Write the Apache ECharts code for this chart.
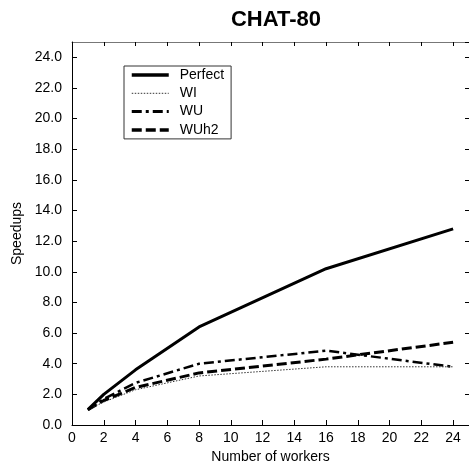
<!DOCTYPE html>
<html>
<head>
<meta charset="utf-8">
<script src="https://cdn.jsdelivr.net/npm/echarts@6/dist/echarts.min.js"></script>
<style>
  html, body { margin: 0; padding: 0; background: #fff; }
  #chart { width: 469px; height: 470px; }
</style>
</head>
<body>
<div id="chart"></div>
<script>
// Speedup measurements for CHAT-80 by number of workers
const workers = [1, 2, 4, 8, 16, 24];
const perfect = [1.0, 2.0, 3.6, 6.4, 10.2, 12.8];
const wi      = [1.0, 1.5, 2.3, 3.2, 3.8, 3.8];
const wu      = [1.0, 1.7, 2.75, 4.0, 4.85, 3.8];
const wuh2    = [1.0, 1.6, 2.45, 3.4, 4.3, 5.4];

const seriesNames = ['Perfect', 'WI', 'WU', 'WUh2'];
const seriesData = [perfect, wi, wu, wuh2];

const lineStyles = [
  { color: '#000', width: 3, type: 'solid' },
  { color: '#333', width: 1, type: [1.5, 1.5] },
  { color: '#000', width: 2.5, type: [10, 4, 3, 4] },
  { color: '#000', width: 3, type: [10, 4] }
];

const font = 'Liberation Sans, Arial, Helvetica, sans-serif';

const pairs = arr => workers.map((w, i) => [w, arr[i]]);

const chart = echarts.init(document.getElementById('chart'), null, { renderer: 'canvas' });

chart.setOption({
  animation: false,
  backgroundColor: '#fff',
  title: {
    text: 'CHAT-80',
    left: 271,
    textAlign: 'center',
    top: 4,
    textStyle: { fontFamily: font, fontSize: 22, fontWeight: 'bold', color: '#000' }
  },
  legend: {
    data: seriesNames.map((name, i) => ({
      name,
      lineStyle: {
        color: lineStyles[i].color,
        width: lineStyles[i].width + (i === 1 ? 0 : 0.5),
        type: lineStyles[i].type
      }
    })),
    orient: 'vertical',
    left: 124,
    top: 66,
    itemWidth: 37,
    itemHeight: 14,
    itemGap: 4.3,
    padding: [2, 7, 2, 6],
    borderColor: '#333',
    borderWidth: 1,
    backgroundColor: '#fff',
    itemStyle: { opacity: 0 },
    textStyle: { fontFamily: font, fontSize: 14, color: '#000', padding: [0, 0, 0, 6] }
  },
  grid: { left: 72, right: -1, top: 42, bottom: 45 },
  xAxis: [
    {
      type: 'value',
      min: 0, max: 25, interval: 2,
      name: 'Number of workers',
      nameLocation: 'middle',
      nameGap: 25,
      nameTextStyle: { fontFamily: font, fontSize: 14, color: '#000' },
      axisLine: { show: true, onZero: false, lineStyle: { color: '#000', width: 1 } },
      axisTick: { show: true, inside: true, length: 5, lineStyle: { color: '#000' } },
      axisLabel: { fontFamily: font, fontSize: 14, color: '#000', margin: 6, showMaxLabel: false },
      splitLine: { show: false }
    },
    {
      type: 'value',
      position: 'top',
      min: 0, max: 25, interval: 2,
      axisLine: { show: true, onZero: false, lineStyle: { color: '#777', width: 1 } },
      axisTick: { show: true, inside: true, length: 4, lineStyle: { color: '#000' } },
      axisLabel: { show: false },
      splitLine: { show: false }
    }
  ],
  yAxis: [
    {
      type: 'value',
      min: 0, max: 25, interval: 2,
      name: 'Speedups',
      nameLocation: 'middle',
      nameGap: 42,
      nameTextStyle: { fontFamily: font, fontSize: 14, color: '#000' },
      axisLine: { show: true, onZero: false, lineStyle: { color: '#000', width: 1 } },
      axisTick: { show: true, inside: true, length: 5, lineStyle: { color: '#000' } },
      axisLabel: {
        fontFamily: font, fontSize: 14, color: '#000', margin: 10, showMaxLabel: false,
        formatter: v => v.toFixed(1)
      },
      splitLine: { show: false }
    },
    {
      type: 'value',
      position: 'right',
      min: 0, max: 25, interval: 2,
      axisLine: { show: true, onZero: false, lineStyle: { color: '#777', width: 1 } },
      axisTick: { show: true, inside: true, length: 4, lineStyle: { color: '#000' } },
      axisLabel: { show: false },
      splitLine: { show: false }
    }
  ],
  series: seriesNames.map((name, i) => ({
    name,
    type: 'line',
    xAxisIndex: 0,
    yAxisIndex: 0,
    data: pairs(seriesData[i]),
    showSymbol: false,
    symbol: 'none',
    lineStyle: lineStyles[i],
    itemStyle: { color: lineStyles[i].color },
    z: 10 - i
  }))
});
</script>
</body>
</html>
